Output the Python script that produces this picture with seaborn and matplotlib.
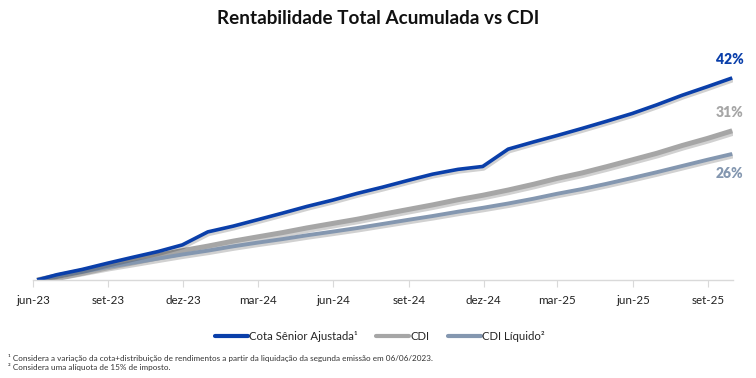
import numpy as np
import pandas as pd
import matplotlib
matplotlib.use("Agg")
import matplotlib.pyplot as plt
import matplotlib.dates as mdates
import matplotlib.patheffects as pe
from matplotlib.lines import Line2D
import seaborn as sns

# ---------------- data ----------------
dates = ["2023-06-06", "2023-06-30", "2023-07-31", "2023-08-31", "2023-09-30",
         "2023-10-31", "2023-11-30", "2023-12-31", "2024-01-31", "2024-02-29",
         "2024-03-31", "2024-04-30", "2024-05-31", "2024-06-30", "2024-07-31",
         "2024-08-31", "2024-09-30", "2024-10-31", "2024-11-30", "2024-12-31",
         "2025-01-31", "2025-02-28", "2025-03-31", "2025-04-30", "2025-05-31",
         "2025-06-30", "2025-07-31", "2025-08-31", "2025-09-30"]
cota_senior = [0.0, 1.1, 2.2, 3.5, 4.7, 5.9, 7.3, 10.0, 11.2, 12.5,
               13.9, 15.3, 16.6, 18.0, 19.3, 20.7, 22.0, 23.0, 23.6, 27.2,
               28.7, 30.0, 31.5, 33.0, 34.6, 36.4, 38.4, 40.2, 42.0]
cdi = [0.0, 0.85, 1.93, 3.09, 4.09, 5.13, 6.10, 7.04, 8.08, 8.94,
       9.85, 10.83, 11.75, 12.63, 13.66, 14.65, 15.61, 16.69, 17.61, 18.70,
       19.90, 21.09, 22.25, 23.55, 24.96, 26.33, 27.95, 29.43, 31.01]
cdi_liquido = [0.0, 0.75, 1.7, 2.7, 3.55, 4.45, 5.3, 6.1, 7.0, 7.75,
               8.5, 9.3, 10.05, 10.8, 11.65, 12.5, 13.3, 14.2, 15.0, 15.9,
               16.9, 17.9, 18.9, 20.0, 21.2, 22.4, 23.7, 25.0, 26.2]
series_names = ["Cota Sênior Ajustada", "CDI", "CDI Líquido"]
legend_labels = ["Cota Sênior Ajustada¹", "CDI", "CDI Líquido²"]
end_labels = ["42%", "31%", "26%"]
month_abbr = {3: "mar", 6: "jun", 9: "set", 12: "dez"}
title = "Rentabilidade Total Acumulada vs CDI"
footnotes = ["¹ Considera a variação da cota+distribuição de rendimentos a partir da liquidação da segunda emissão em 06/06/2023.",
             "² Considera uma alíquota de 15% de imposto."]

colors = ["#0A3FAA", "#A6A6A6", "#8497B0"]
widths = [2.6, 3.6, 2.8]

# ---------------- figure ----------------
sns.set_theme(style="white")
plt.rcParams["font.family"] = ["Lato", "DejaVu Sans"]

df = pd.DataFrame({
    "date": pd.to_datetime(dates * 3),
    "value": cota_senior + cdi + cdi_liquido,
    "serie": sum([[n] * len(dates) for n in series_names], []),
})

fig = plt.figure(figsize=(7.56, 3.78), dpi=100)
ax = fig.add_axes([33 / 756, 98 / 378, 700 / 756, 216.5 / 378])

order = ["CDI", "CDI Líquido", "Cota Sênior Ajustada"]
for name in order:
    i = series_names.index(name)
    sub = df[df["serie"] == name]
    sns.lineplot(data=sub, x="date", y="value", ax=ax, color=colors[i],
                 linewidth=widths[i], legend=False, solid_capstyle="butt")
    ln = ax.lines[-1]
    ln.set_path_effects([pe.SimpleLineShadow(offset=(0.6, -1.3), shadow_color="black",
                                             alpha=0.18, linewidth=widths[i] + 1.0),
                         pe.Normal()])

ax.set_xlim(pd.Timestamp("2023-06-01"), pd.Timestamp("2025-10-01"))
ax.set_ylim(0, 45)
ax.set_xlabel("")
ax.set_ylabel("")
ax.set_yticks([])

ax.xaxis.set_major_locator(mdates.MonthLocator(bymonth=[3, 6, 9, 12]))
ax.xaxis.set_major_formatter(plt.FuncFormatter(
    lambda v, p: f"{month_abbr[mdates.num2date(v).month]}-{mdates.num2date(v).strftime('%y')}"))
ax.tick_params(axis="x", which="major", length=5, width=0.8, color="#D9D9D9",
               labelsize=8.4, labelcolor="#222222", pad=6, bottom=True, direction="out")

for s in ["top", "right", "left"]:
    ax.spines[s].set_visible(False)
ax.spines["bottom"].set_color("#D9D9D9")
ax.spines["bottom"].set_linewidth(1.0)

# end labels
last_x = pd.Timestamp(dates[-1])
label_offsets = [(8, 13), (8, 13), (8, -14)]
for i, vals in enumerate([cota_senior, cdi, cdi_liquido]):
    ax.annotate(end_labels[i], xy=(last_x, vals[-1]), xytext=label_offsets[i],
                textcoords="offset points", ha="right", va="center",
                fontsize=10, fontweight="heavy", color=colors[i],
                annotation_clip=False)

fig.text(0.5, 1 - 19 / 378, title, ha="center", va="center",
         fontsize=13.6, fontweight="bold", color="#111111")

handles = [Line2D([0], [0], color=colors[i], linewidth=3.0) for i in range(3)]
fig.legend(handles, legend_labels, loc="center", bbox_to_anchor=(380 / 756, 1 - 336 / 378),
           ncol=3, frameon=False, fontsize=8.2, handlelength=2.9, handletextpad=0.1,
           columnspacing=1.6)

fig.text(8 / 756, 1 - 358 / 378, footnotes[0], fontsize=5.9, color="#333333", va="center")
fig.text(8 / 756, 1 - 367 / 378, footnotes[1], fontsize=5.9, color="#333333", va="center")

fig.savefig("out.png", dpi=100)
